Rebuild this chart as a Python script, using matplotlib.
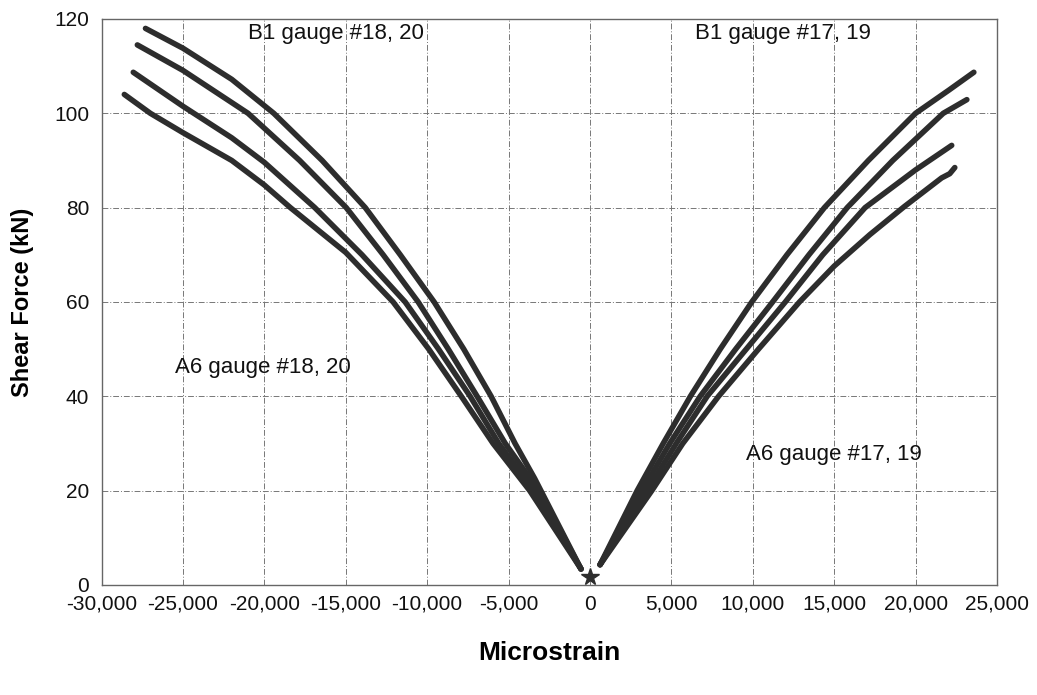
import matplotlib.pyplot as plt
import matplotlib.ticker as mticker

plt.rcParams['font.family'] = ['Liberation Sans', 'DejaVu Sans']

# left branch (gauges #18, 20), listed from the origin upwards
l1_x = [-550, -3400, -4600, -6070, -7750, -9570, -11650, -13800, -16450, -19420, -22000, -25000, -27300]
l1_y = [3.4, 22.6, 30.0, 40.0, 50.0, 60.0, 70.0, 80.0, 90.0, 100.0, 107.2, 113.8, 118.0]

l2_x = [-550, -3150, -5200, -6930, -8700, -10550, -12700, -14970, -17830, -21000, -25000, -27800]
l2_y = [3.4, 20.0, 30.0, 40.0, 50.0, 60.0, 70.0, 80.0, 90.0, 100.0, 109.1, 114.5]

l3_x = [-550, -3450, -5600, -7360, -9300, -11350, -14000, -16900, -20000, -22000, -25000, -28050]
l3_y = [3.4, 20.0, 30.0, 40.0, 50.0, 60.0, 70.0, 80.0, 89.6, 94.8, 101.5, 108.7]

l4_x = [-550, -3700, -5950, -7900, -9900, -12090, -15000, -18400, -20000, -22000, -25000, -27000, -28600]
l4_y = [3.4, 20.0, 30.0, 40.0, 50.0, 60.0, 70.5, 80.0, 84.8, 90.0, 95.9, 100.0, 104.0]

# right branch (gauges #17, 19)
r1_x = [620, 2900, 4500, 6170, 8000, 9940, 12100, 14400, 17100, 20000, 22040, 23580]
r1_y = [4.3, 20.0, 30.0, 40.0, 50.0, 60.0, 70.0, 80.0, 90.0, 100.0, 104.9, 108.7]

r2_x = [620, 3200, 4900, 6770, 8950, 11220, 13450, 15800, 18600, 21700, 23150]
r2_y = [4.3, 20.0, 30.0, 40.0, 50.0, 60.0, 70.0, 80.0, 90.0, 100.0, 102.9]

r3_x = [620, 3500, 5300, 7200, 9600, 12000, 14300, 16900, 20000, 22220]
r3_y = [4.3, 20.0, 30.0, 40.0, 50.0, 60.0, 70.0, 80.0, 88.0, 93.2]

r4_x = [620, 3800, 5700, 7900, 10350, 12870, 15000, 17200, 19300, 21600, 22100, 22410]
r4_y = [4.3, 20.0, 30.0, 40.0, 50.0, 60.0, 67.6, 74.3, 80.2, 86.3, 87.2, 88.5]

origin_x = [0]
origin_y = [1.7]

x_ticks = [-30000, -25000, -20000, -15000, -10000, -5000, 0, 5000, 10000, 15000, 20000, 25000]
y_ticks = [0, 20, 40, 60, 80, 100, 120]

labels = ['B1 gauge #18, 20', 'B1 gauge #17, 19', 'A6 gauge #18, 20', 'A6 gauge #17, 19']
label_x = [-20980, 6440, -25460, 9570]
label_y = [117.0, 117.0, 46.1, 27.6]

fig = plt.figure(figsize=(10.37, 6.95), dpi=100)
ax = fig.add_axes([0.0979, 0.1583, 0.8635, 0.8144])

line_color = '#2d2d2d'
for xs, ys in [(l1_x, l1_y), (l2_x, l2_y), (l3_x, l3_y), (l4_x, l4_y),
               (r1_x, r1_y), (r2_x, r2_y), (r3_x, r3_y), (r4_x, r4_y)]:
    ax.plot(xs, ys, color=line_color, lw=4.0, solid_capstyle='round', solid_joinstyle='round')

ax.plot(origin_x, origin_y, marker='*', color=line_color, markersize=13, lw=0)

for txt, tx, ty in zip(labels, label_x, label_y):
    ax.text(tx, ty, txt, fontsize=16, va='center', ha='left', color='#111111')

ax.set_xlim(-30000, 25000)
ax.set_ylim(0, 120)
ax.set_xticks(x_ticks)
ax.set_yticks(y_ticks)
ax.xaxis.set_major_formatter(mticker.FuncFormatter(lambda v, p: '{:,.0f}'.format(v)))
ax.tick_params(length=0, labelsize=15, colors='#111111')
ax.tick_params(axis='x', pad=7)
ax.tick_params(axis='y', pad=9)

ax.grid(True, color='#777777', lw=0.7, linestyle=(0, (6, 2, 1, 2)))
for sp in ax.spines.values():
    sp.set_color('#666666')
    sp.set_linewidth(1.0)

ax.set_xlabel('Microstrain', fontsize=19, fontweight='bold', labelpad=20)
ax.set_ylabel('Shear Force (kN)', fontsize=17, fontweight='bold', labelpad=14)

fig.savefig('out.png', dpi=100)
